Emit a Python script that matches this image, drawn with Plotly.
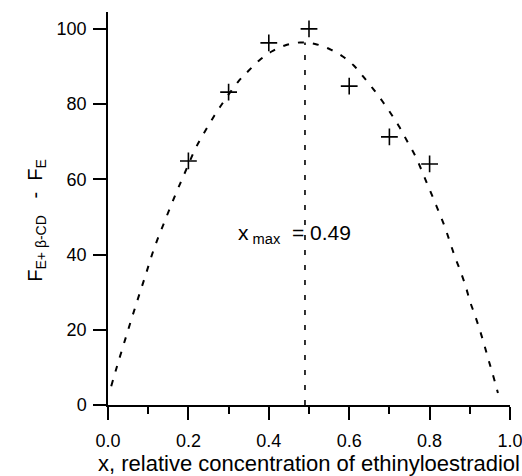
import plotly.graph_objects as go

# Measured data points
x_data = [0.2, 0.3, 0.4, 0.5, 0.6, 0.7, 0.8]
y_data = [64.9, 83.2, 96.3, 100.0, 84.8, 71.3, 64.1]

# Fitted curve
curve_x = [0.008, 0.023, 0.045, 0.068, 0.091, 0.115, 0.143, 0.172, 0.189, 0.218,
           0.237, 0.258, 0.279, 0.324, 0.349, 0.376, 0.407, 0.440, 0.478, 0.515,
           0.552, 0.585, 0.612, 0.635, 0.660, 0.683, 0.706, 0.725, 0.745, 0.764,
           0.779, 0.794, 0.809, 0.824, 0.838, 0.851, 0.863, 0.877, 0.890, 0.900,
           0.913, 0.925, 0.936, 0.946, 0.957, 0.970]
curve_y = [5.0, 10.5, 18.2, 26.1, 33.7, 41.7, 49.4, 57.0, 61.2, 68.3,
           72.0, 75.8, 79.3, 86.0, 88.8, 91.6, 94.0, 95.6, 96.4, 96.0,
           94.6, 92.6, 90.2, 87.3, 84.0, 80.7, 77.1, 73.9, 70.0, 66.3,
           62.7, 58.8, 55.0, 51.1, 47.3, 43.2, 39.4, 35.5, 31.5, 27.7,
           23.8, 19.9, 16.0, 12.2, 8.2, 3.2]

x_max = 0.49
y_peak = 96.4

x_ticks = [0.0, 0.2, 0.4, 0.6, 0.8, 1.0]
x_tick_labels = ["0.0", "0.2", "0.4", "0.6", "0.8", "1.0"]
x_minor_ticks = [0.1, 0.3, 0.5, 0.7, 0.9]
y_ticks = [0, 20, 40, 60, 80, 100]

FONT = "Liberation Sans, Arial, sans-serif"

fig = go.Figure()
fig.add_trace(go.Scatter(
    x=curve_x, y=curve_y, mode="lines", line_shape="spline",
    line=dict(color="black", width=2, dash="6px,9px"), showlegend=False,
    hoverinfo="skip", cliponaxis=False))
fig.add_trace(go.Scatter(
    x=[x_max, x_max], y=[0, y_peak], mode="lines",
    line=dict(color="black", width=1.6, dash="5px,10px"), showlegend=False,
    hoverinfo="skip"))
fig.add_trace(go.Scatter(
    x=x_data, y=y_data, mode="markers",
    marker=dict(symbol="cross-thin", size=12, color="black",
                line=dict(color="black", width=1.6)),
    showlegend=False, cliponaxis=False))

fig.add_annotation(
    x=0.463, y=45.5, xref="x", yref="y", showarrow=False,
    text="x<sub> max</sub>&nbsp; = 0.49",
    font=dict(family=FONT, size=21, color="black"))

fig.add_annotation(
    x=-0.177, y=0.471, xref="paper", yref="paper", showarrow=False,
    textangle=-90, xanchor="center", yanchor="middle",
    text="F<sub>E+ β-CD</sub>&nbsp;&nbsp; -&nbsp; F<sub>E</sub>",
    font=dict(family=FONT, size=20, color="black"))

fig.update_layout(
    width=522, height=476,
    margin=dict(l=108, r=12, t=12, b=71),
    paper_bgcolor="white", plot_bgcolor="white",
    font=dict(family=FONT, size=18, color="black"),
    xaxis=dict(
        range=[0, 1.0], tickvals=x_ticks, ticktext=x_tick_labels,
        showgrid=False, zeroline=False, showline=True, linecolor="black",
        linewidth=1.5, ticks="outside", ticklen=13, tickwidth=1.5,
        tickcolor="black", automargin=False, ticklabeloverflow="allow",
        ticklabelstandoff=6,
        minor=dict(ticks="outside", ticklen=7, tickwidth=1.5,
                   tickcolor="black", tickvals=x_minor_ticks, showgrid=False),
        title=dict(text="x, relative concentration of ethinyloestradiol",
                   font=dict(size=22), standoff=8),
    ),
    yaxis=dict(
        range=[0, 104.5], tickvals=y_ticks,
        showgrid=False, zeroline=False, showline=True, linecolor="black",
        linewidth=1.5, ticks="outside", ticklen=13, tickwidth=1.5,
        tickcolor="black", automargin=False, ticklabelstandoff=3,
    ),
)

# Remove the default 8px page margin so the figure fills the window exactly.
fig.write_html("out.html",
               config={"displayModeBar": False},
               post_script="document.body.style.margin='0';"
                           "document.body.style.overflow='hidden';")
